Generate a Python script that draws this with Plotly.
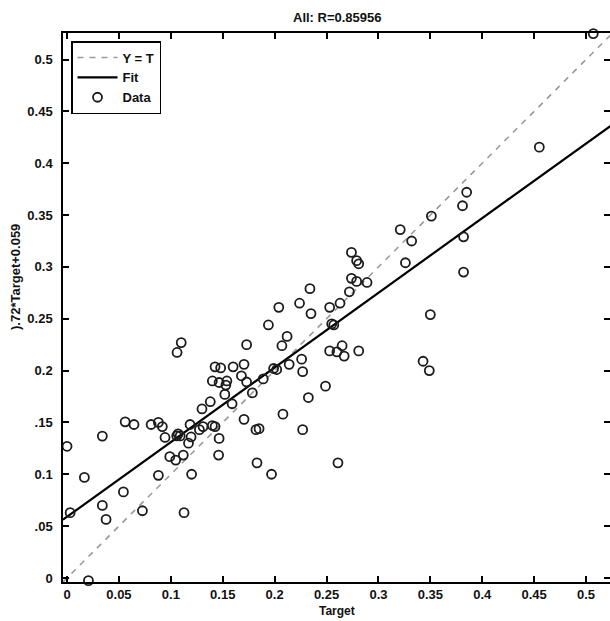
import plotly.graph_objects as go

# ---- data ----
target = [0.507, 0.455, 0.385, 0.381, 0.351, 0.321, 0.332, 0.382, 0.326, 0.382,
          0.274, 0.279, 0.281, 0.274, 0.279, 0.289, 0.272, 0.234, 0.224, 0.235,
          0.253, 0.263, 0.350, 0.255, 0.257, 0.204, 0.194, 0.212, 0.207, 0.173,
          0.253, 0.260, 0.265, 0.267, 0.281, 0.343, 0.349, 0.1705, 0.226, 0.214,
          0.199, 0.202, 0.227, 0.168, 0.189, 0.173, 0.1785, 0.249, 0.2325, 0.1705,
          0.208, 0.182, 0.185, 0.227, 0.183, 0.261, 0.197, 0.110, 0.106, 0.1426,
          0.148, 0.160, 0.140, 0.1465, 0.154, 0.153, 0.152, 0.159, 0.138, 0.130,
          0.1426, 0.140, 0.131, 0.1275, 0.1185, 0.1195, 0.1465, 0.107, 0.109, 0.1057,
          0.117, 0.112, 0.099, 0.1047, 0.146, 0.120, 0.0944, 0.088, 0.0918, 0.081,
          0.088, 0.0645, 0.056, 0.034, 0.0, 0.0167, 0.0543, 0.034, 0.0376, 0.0726,
          0.003, 0.1127, 0.0206]
output = [0.5250, 0.4155, 0.372, 0.359, 0.349, 0.336, 0.325, 0.329, 0.304, 0.295,
          0.314, 0.306, 0.303, 0.289, 0.286, 0.285, 0.276, 0.279, 0.265, 0.255,
          0.261, 0.265, 0.254, 0.245, 0.244, 0.261, 0.244, 0.233, 0.224, 0.225,
          0.219, 0.218, 0.224, 0.214, 0.219, 0.209, 0.200, 0.206, 0.211, 0.206,
          0.202, 0.201, 0.199, 0.195, 0.192, 0.189, 0.1785, 0.185, 0.174, 0.153,
          0.158, 0.143, 0.144, 0.143, 0.111, 0.111, 0.100, 0.227, 0.2175, 0.2036,
          0.2026, 0.2036, 0.190, 0.1885, 0.190, 0.186, 0.177, 0.168, 0.170, 0.163,
          0.146, 0.147, 0.146, 0.143, 0.148, 0.136, 0.1346, 0.139, 0.137, 0.137,
          0.130, 0.1185, 0.117, 0.1137, 0.1185, 0.100, 0.1355, 0.150, 0.146, 0.148,
          0.099, 0.148, 0.1506, 0.1368, 0.127, 0.097, 0.083, 0.070, 0.0565, 0.0648,
          0.063, 0.063, -0.0026]

fit_slope = 0.72
fit_intercept = 0.059
title_text = "All: R=0.85956"
x_title = "Target"
y_title = ").72*Target+0.059"
tick_vals = [0, 0.05, 0.1, 0.15, 0.2, 0.25, 0.3, 0.35, 0.4, 0.45, 0.5]
x_tick_text = ["0", "0.05", "0.1", "0.15", "0.2", "0.25", "0.3", "0.35", "0.4", "0.45", "0.5"]
y_tick_text = ["0", ".05", "0.1", ".15", "0.2", "0.25", "0.3", "0.35", "0.4", "0.45", "0.5"]

lim = [-0.0039, 0.5256]
x_range = [-0.0039, 0.5231]
y_range = [-0.0039, 0.5256]

FONT = "Liberation Sans, Arial, sans-serif"
ML, MT, W, H = 63, 33, 610, 621
PB = 582  # plot bottom pixel
PW, PH = W - ML, PB - MT

fig = go.Figure()
fig.add_trace(go.Scatter(
    x=lim, y=lim, mode="lines", name="<b>Y = T</b>",
    line=dict(color="#9a9a9a", width=1.6, dash="6px,6px"),
))
fig.add_trace(go.Scatter(
    x=lim, y=[fit_slope * v + fit_intercept for v in lim], mode="lines", name="<b>Fit</b>",
    line=dict(color="black", width=2.2),
))
fig.add_trace(go.Scatter(
    x=target, y=output, mode="markers", name="<b>Data</b>", cliponaxis=False,
    marker=dict(symbol="circle-open", size=9, color="#1c1c1c",
                line=dict(width=1.8, color="#1c1c1c")),
))

axis_common = dict(
    showgrid=False, zeroline=False, showline=True, linecolor="black", linewidth=1.5,
    ticks="inside", ticklen=6, tickwidth=1.5, tickcolor="black", automargin=False,
    tickvals=tick_vals, tickfont=dict(family=FONT, size=13, color="#111"),
    mirror="ticks",
)

fig.update_layout(
    width=W, height=H,
    margin=dict(l=ML, r=0, t=MT, b=H - PB, autoexpand=False),
    paper_bgcolor="white", plot_bgcolor="white",
    font=dict(family=FONT, size=13, color="#111"),
    xaxis=dict(axis_common, range=x_range, ticktext=["<b>%s</b>" % t for t in x_tick_text],
               ticklabelstandoff=0),
    yaxis=dict(axis_common, range=y_range, ticktext=["<b>%s</b>" % t for t in y_tick_text],
               ticklabelstandoff=6),
    showlegend=True,
    legend=dict(x=(71 - ML) / PW, y=(PB - 41) / PH, xanchor="left", yanchor="top",
                bordercolor="black", borderwidth=1.5, bgcolor="white",
                font=dict(family=FONT, size=13, color="#111"), tracegroupgap=0,
                itemwidth=40),
    annotations=[
        dict(text="<b>" + title_text + "</b>", xref="paper", yref="paper",
             x=(337 - ML) / PW, y=(PB - 17) / PH, xanchor="center", yanchor="middle",
             showarrow=False, font=dict(family=FONT, size=13, color="#111")),
        dict(text="<b>" + x_title + "</b>", xref="paper", yref="paper",
             x=(337 - ML) / PW, y=(PB - 611) / PH, xanchor="center", yanchor="middle",
             borderpad=0, showarrow=False, font=dict(family=FONT, size=12, color="#111")),
        dict(text="<b>" + y_title + "</b>", textangle=-90, xref="paper", yref="paper",
             x=(15 - ML) / PW, y=(PB - 277) / PH, xanchor="center", yanchor="middle",
             showarrow=False, font=dict(family=FONT, size=13, color="#111")),
    ],
)

fig.write_html("out.html", config={"displayModeBar": False},
               post_script="document.body.style.margin='0';document.body.style.overflow='hidden';")
